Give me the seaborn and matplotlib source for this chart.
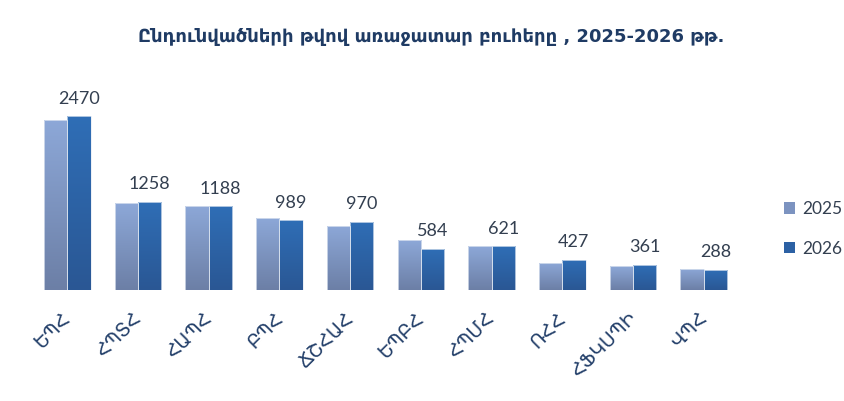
import matplotlib
matplotlib.use("Agg")
import matplotlib.pyplot as plt
import seaborn as sns
import pandas as pd
import numpy as np
from matplotlib.colors import LinearSegmentedColormap
from matplotlib.patches import Patch

# data
universities = ["ԵՊՀ", "ՀՊՏՀ", "ՀԱՊՀ", "ԲՊՀ", "ՃՇՀԱՀ", "ԵՊԲՀ", "ՀՊՄՀ", "ՌՀՀ", "ՀՖԿՍՊԻ", "ՎՊՀ"]
years = ["2025", "2026"]
admitted_2025 = [2420, 1230, 1195, 1030, 915, 705, 620, 390, 340, 305]
admitted_2026 = [2470, 1258, 1188, 989, 970, 584, 621, 427, 361, 288]

title = "Ընդունվածների թվով առաջատար բուհերը , 2025-2026 թթ."

df = pd.DataFrame({
    "university": universities * 2,
    "year": [years[0]] * len(universities) + [years[1]] * len(universities),
    "count": admitted_2025 + admitted_2026,
})

# gradient colours, top -> bottom
grad_colors = {
    "2025": ("#8DA8D8", "#6C7FA6"),
    "2026": ("#2F6EB6", "#2A5794"),
}
mid_colors = {"2025": "#7C93C0", "2026": "#2C61A4"}

sns.set_style("white")
plt.rcParams["font.family"] = ["Lato", "DejaVu Sans"]

fig = plt.figure(figsize=(8.45, 4.01), dpi=100)
ax = fig.add_axes([32 / 845, 1 - 290 / 401, (739 - 32) / 845, (290 - 79) / 401])

sns.barplot(
    data=df, x="university", y="count", hue="year",
    palette=mid_colors, width=0.66, gap=0, ax=ax, legend=False,
    edgecolor="none",
)

# paint a vertical gradient into each bar
n = len(universities)
grad = np.linspace(0, 1, 256).reshape(-1, 1)
bars = list(ax.patches)
for i, bar in enumerate(bars):
    yr = years[i // n]
    cmap = LinearSegmentedColormap.from_list(yr, grad_colors[yr])
    x, w, h = bar.get_x(), bar.get_width(), bar.get_height()
    im = ax.imshow(grad, cmap=cmap, extent=[x, x + w, 0, h], aspect="auto",
                   origin="upper", zorder=bar.get_zorder())
    im.set_clip_path(bar)
    bar.set_facecolor("none")
    bar.set_edgecolor("#E4EAF3")
    bar.set_linewidth(0.5)
    bar.set_zorder(bar.get_zorder() + 0.1)

# value labels on the 2026 bars
ax.bar_label(ax.containers[1], labels=[str(v) for v in admitted_2026],
             padding=7, fontsize=13, color="#333F50")

ax.set_xlim(-0.5, n - 0.5)
ax.set_ylim(0, 3000)
ax.set_xlabel("")
ax.set_ylabel("")
ax.set_yticks([])
sns.despine(ax=ax, left=True, bottom=True)
ax.tick_params(axis="x", length=0, pad=18)
ax.set_xticks(range(n))
ax.set_xticklabels(universities, rotation=45, ha="right", va="center",
                   rotation_mode="anchor", fontsize=13.5, color="#24406A",
                   family="DejaVu Sans")

fig.text(431 / 845, 1 - 37 / 401, title, ha="center", va="center",
         fontsize=13, fontweight="bold", color="#1F3B64", family="DejaVu Sans")

handles = [Patch(facecolor=mid_colors[y], edgecolor="none") for y in years]
fig.legend(handles, years, loc="center left",
           bbox_to_anchor=(768 / 845, 1 - 229 / 401), frameon=False,
           fontsize=12.5, handlelength=0.65, handleheight=0.65,
           handletextpad=0.4, labelspacing=1.35, labelcolor="#333F50")

fig.savefig("out.png", dpi=100, facecolor="white")
plt.close(fig)
